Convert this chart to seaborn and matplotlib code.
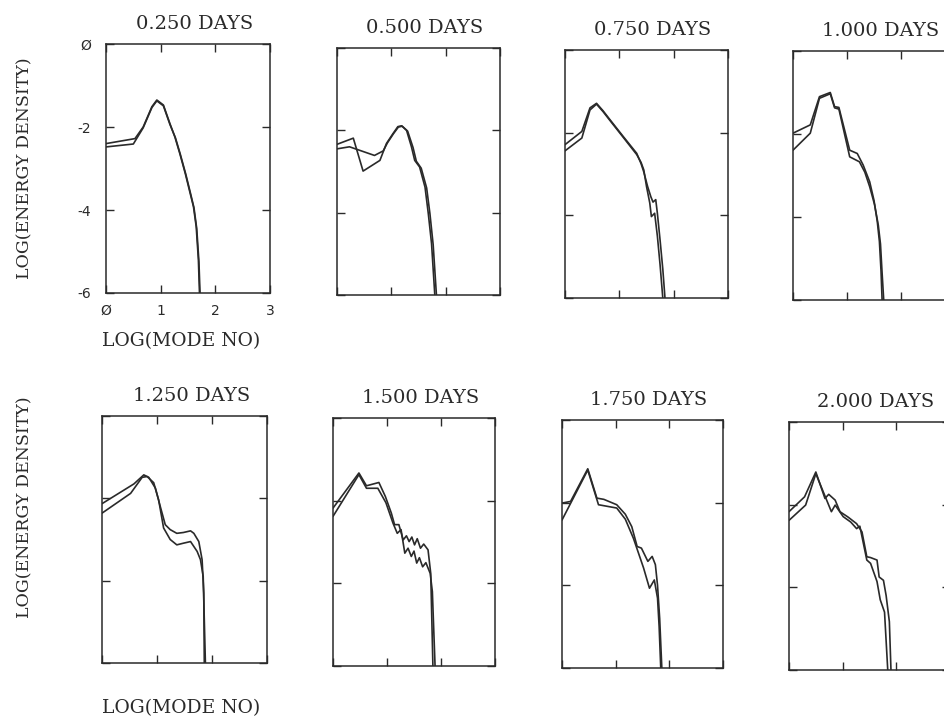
import matplotlib
matplotlib.use("Agg")
import matplotlib.pyplot as plt
import seaborn as sns
import pandas as pd

# time of each panel (days)
DAYS = [0.25, 0.5, 0.75, 1.0, 1.25, 1.5, 1.75, 2.0]

# log(mode no) / log(energy density), two runs per panel
P1_X_A = [0.0, 0.53, 0.68, 0.84, 0.93, 1.05, 1.17, 1.26, 1.35, 1.45, 1.54, 1.60, 1.65, 1.69, 1.71]
P1_Y_A = [-2.40, -2.28, -2.00, -1.51, -1.35, -1.47, -1.92, -2.24, -2.64, -3.12, -3.60, -3.92, -4.40, -5.20, -6.0]
P1_X_B = [0.0, 0.50, 0.68, 0.84, 0.93, 1.05, 1.17, 1.27, 1.36, 1.46, 1.55, 1.61, 1.66, 1.70, 1.72]
P1_Y_B = [-2.48, -2.41, -2.02, -1.53, -1.37, -1.49, -1.94, -2.26, -2.66, -3.14, -3.62, -3.95, -4.45, -5.25, -6.0]

P2_X_A = [0.0, 0.30, 0.48, 0.79, 0.91, 1.03, 1.12, 1.19, 1.28, 1.37, 1.43, 1.52, 1.62, 1.68, 1.74, 1.80]
P2_Y_A = [-2.34, -2.19, -2.99, -2.73, -2.32, -2.08, -1.91, -1.89, -2.00, -2.40, -2.73, -2.89, -3.38, -4.02, -4.75, -6.0]
P2_X_B = [0.0, 0.23, 0.69, 0.85, 0.93, 1.04, 1.13, 1.20, 1.30, 1.40, 1.46, 1.55, 1.65, 1.71, 1.77, 1.83]
P2_Y_B = [-2.45, -2.40, -2.61, -2.50, -2.30, -2.08, -1.92, -1.90, -2.02, -2.42, -2.75, -2.92, -3.40, -4.02, -4.78, -6.0]

P3_X_A = [0.0, 0.31, 0.46, 0.58, 0.70, 0.83, 1.07, 1.32, 1.40, 1.45, 1.52, 1.58, 1.62, 1.67, 1.70, 1.75, 1.80, 1.84]
P3_Y_A = [-2.29, -1.97, -1.40, -1.29, -1.47, -1.69, -2.09, -2.50, -2.75, -2.95, -3.30, -3.55, -3.68, -3.62, -3.95, -4.60, -5.30, -6.0]
P3_X_B = [0.0, 0.31, 0.46, 0.58, 0.70, 0.83, 1.07, 1.32, 1.40, 1.45, 1.50, 1.56, 1.59, 1.65, 1.70, 1.75, 1.80]
P3_Y_B = [-2.44, -2.13, -1.45, -1.31, -1.49, -1.71, -2.11, -2.53, -2.72, -2.90, -3.30, -3.70, -4.03, -3.95, -4.50, -5.20, -6.0]

P4_X_A = [0.0, 0.32, 0.49, 0.69, 0.77, 0.85, 1.05, 1.19, 1.30, 1.42, 1.50, 1.56, 1.60, 1.63, 1.65]
P4_Y_A = [-1.98, -1.78, -1.10, -1.00, -1.34, -1.36, -2.39, -2.47, -2.75, -3.15, -3.60, -4.10, -4.59, -5.30, -6.0]
P4_X_B = [0.0, 0.32, 0.49, 0.69, 0.77, 0.85, 1.05, 1.23, 1.33, 1.42, 1.51, 1.58, 1.62, 1.65, 1.68]
P4_Y_B = [-2.39, -1.98, -1.14, -1.03, -1.37, -1.40, -2.55, -2.67, -2.92, -3.27, -3.70, -4.20, -4.65, -5.35, -6.0]

P5_X_A = [0.0, 0.58, 0.76, 0.85, 0.97, 1.06, 1.15, 1.24, 1.36, 1.48, 1.61, 1.67, 1.76, 1.82, 1.85, 1.86]
P5_Y_A = [-2.13, -1.65, -1.43, -1.49, -1.75, -2.20, -2.64, -2.76, -2.85, -2.83, -2.79, -2.85, -3.05, -3.49, -4.30, -6.0]
P5_X_B = [0.0, 0.52, 0.73, 0.82, 0.94, 1.03, 1.12, 1.24, 1.36, 1.48, 1.61, 1.73, 1.79, 1.84, 1.88]
P5_Y_B = [-2.36, -1.88, -1.49, -1.47, -1.62, -2.04, -2.72, -3.00, -3.13, -3.09, -3.05, -3.29, -3.49, -3.90, -6.0]

P6_X_A = [0.0, 0.48, 0.62, 0.85, 0.97, 1.08, 1.14, 1.22, 1.30, 1.36, 1.41, 1.46, 1.51, 1.56, 1.62, 1.68, 1.76, 1.81, 1.85]
P6_Y_A = [-2.18, -1.33, -1.64, -1.56, -1.90, -2.30, -2.58, -2.58, -2.95, -2.85, -2.99, -2.88, -3.07, -2.92, -3.15, -3.05, -3.19, -3.76, -6.0]
P6_X_B = [0.0, 0.48, 0.62, 0.83, 0.98, 1.11, 1.19, 1.26, 1.33, 1.39, 1.45, 1.50, 1.55, 1.60, 1.66, 1.72, 1.80, 1.84, 1.89]
P6_Y_B = [-2.38, -1.37, -1.70, -1.70, -2.05, -2.54, -2.79, -2.70, -3.27, -3.15, -3.35, -3.22, -3.51, -3.38, -3.60, -3.50, -3.76, -4.20, -6.0]

P7_X_A = [0.0, 0.16, 0.48, 0.65, 0.78, 1.02, 1.18, 1.30, 1.40, 1.48, 1.60, 1.68, 1.74, 1.78, 1.82, 1.86]
P7_Y_A = [-2.01, -1.97, -1.18, -1.89, -1.92, -2.05, -2.28, -2.58, -3.06, -3.10, -3.42, -3.30, -3.50, -4.00, -4.80, -6.0]
P7_X_B = [0.0, 0.48, 0.68, 1.02, 1.18, 1.33, 1.42, 1.52, 1.63, 1.72, 1.78, 1.81, 1.84]
P7_Y_B = [-2.42, -1.21, -2.05, -2.13, -2.40, -2.86, -3.20, -3.58, -4.07, -3.87, -4.31, -5.00, -6.0]

P8_X_A = [0.0, 0.29, 0.50, 0.67, 0.74, 0.86, 0.95, 1.10, 1.26, 1.36, 1.45, 1.52, 1.64, 1.68, 1.76, 1.81, 1.87, 1.90]
P8_Y_A = [-2.17, -1.81, -1.21, -1.85, -1.75, -1.89, -2.17, -2.30, -2.46, -2.66, -3.26, -3.28, -3.34, -3.75, -3.83, -4.20, -4.83, -6.0]
P8_X_B = [0.0, 0.31, 0.50, 0.79, 0.86, 1.01, 1.15, 1.26, 1.32, 1.45, 1.52, 1.64, 1.70, 1.78, 1.84]
P8_Y_B = [-2.38, -2.01, -1.25, -2.17, -2.01, -2.29, -2.42, -2.58, -2.52, -3.34, -3.42, -3.86, -4.30, -4.60, -6.0]

X_TICKS = [0, 1, 2, 3]
X_TICK_LABELS = ["Ø", "1", "2", "3"]
Y_TICKS = [0, -2, -4, -6]
Y_TICK_LABELS = ["Ø", "-2", "-4", "-6"]

curves = [
    (P1_X_A, P1_Y_A, P1_X_B, P1_Y_B),
    (P2_X_A, P2_Y_A, P2_X_B, P2_Y_B),
    (P3_X_A, P3_Y_A, P3_X_B, P3_Y_B),
    (P4_X_A, P4_Y_A, P4_X_B, P4_Y_B),
    (P5_X_A, P5_Y_A, P5_X_B, P5_Y_B),
    (P6_X_A, P6_Y_A, P6_X_B, P6_Y_B),
    (P7_X_A, P7_Y_A, P7_X_B, P7_Y_B),
    (P8_X_A, P8_Y_A, P8_X_B, P8_Y_B),
]

# panel boxes in pixels (left, top, right, bottom) on the 944x722 page
W, H = 944, 722
BOXES = [
    (106, 44, 270, 293), (337, 48, 500, 295), (565, 50, 728, 298), (793, 51, 955, 300),
    (102, 416, 267, 663), (333, 418, 495, 666), (562, 420, 723, 668), (789, 422, 950, 670),
]

sns.set_style("white")
plt.rcParams["font.family"] = ["DejaVu Serif"]
INK = "#2a2a2a"

fig = plt.figure(figsize=(W / 100, H / 100), dpi=100)

for i, (day, (xa, ya, xb, yb), box) in enumerate(zip(DAYS, curves, BOXES)):
    l, t, r, b = box
    ax = fig.add_axes([l / W, 1 - b / H, (r - l) / W, (b - t) / H])
    df = pd.concat([
        pd.DataFrame({"logmode": xa, "logE": ya, "run": "a"}),
        pd.DataFrame({"logmode": xb, "logE": yb, "run": "b"}),
    ])
    sns.lineplot(data=df, x="logmode", y="logE", units="run", estimator=None,
                 sort=False, color=INK, lw=1.2, ax=ax)
    ax.set_xlim(0, 3)
    ax.set_ylim(-6, 0)
    ax.set_xticks(X_TICKS)
    ax.set_yticks(Y_TICKS)
    if i == 0:
        ax.set_xticklabels(X_TICK_LABELS, family="DejaVu Sans", fontsize=10)
        ax.set_yticklabels(Y_TICK_LABELS, family="DejaVu Sans", fontsize=10)
    else:
        ax.set_xticklabels([])
        ax.set_yticklabels([])
    ax.tick_params(direction="in", length=6, width=1, color=INK,
                   top=True, right=True, bottom=True, left=True, colors=INK)
    ax.tick_params(axis="x", pad=8)
    ax.tick_params(axis="y", pad=11)
    for sp in ax.spines.values():
        sp.set_visible(True)
        sp.set_color(INK)
        sp.set_linewidth(1.1)
    ax.set_xlabel("")
    ax.set_ylabel("")
    ax.set_title(f"{day:.3f} DAYS", fontsize=14, color=INK, x=0.54, pad=11)

for yc_top, yc_lab in [(168, 341), (507, 708)]:
    fig.text(25 / W, 1 - yc_top / H, "LOG(ENERGY DENSITY)", rotation=90,
             ha="center", va="center", fontsize=12.5, color=INK)
    fig.text(181 / W, 1 - yc_lab / H, "LOG(MODE NO)",
             ha="center", va="center", fontsize=13.5, color=INK)

fig.savefig("out.png", dpi=100, facecolor="white")
